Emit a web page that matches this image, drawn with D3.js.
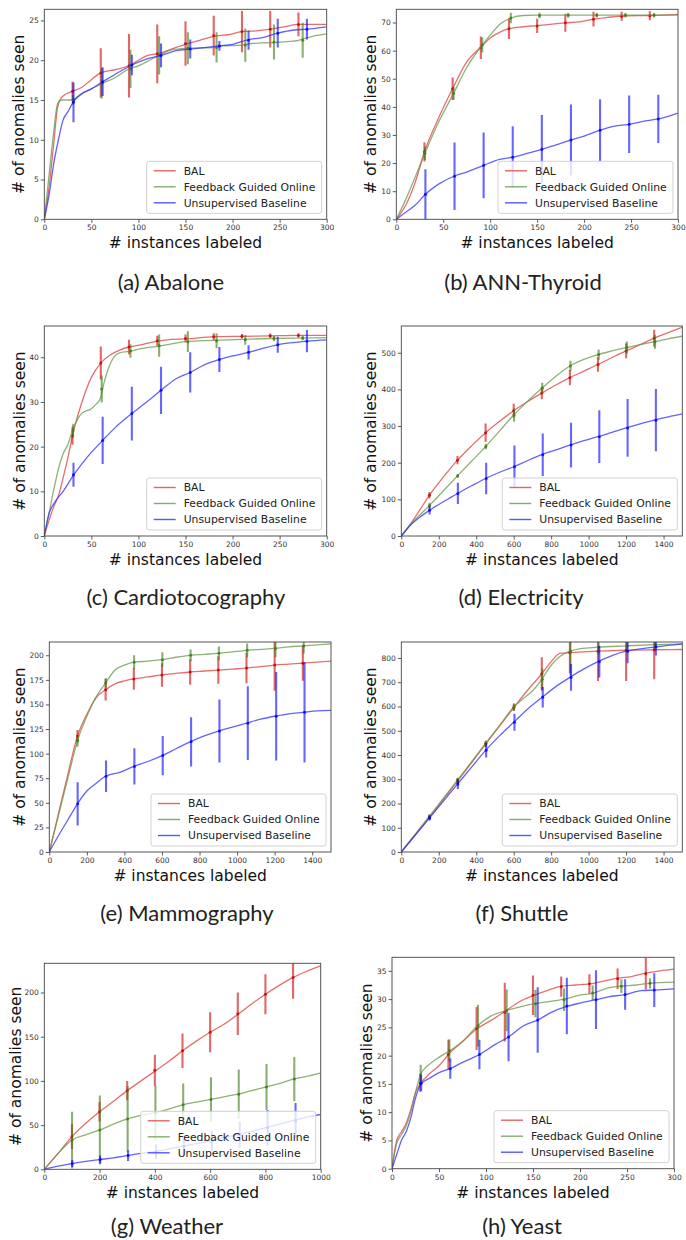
<!DOCTYPE html>
<html>
<head>
<meta charset="utf-8">
<script src="https://cdn.jsdelivr.net/npm/d3@7"></script>
<style>
  body { margin: 0; background: #fff; }
  svg { display: block; }
</style>
</head>
<body>
<svg id="fig" width="686" height="1240"></svg>
<script>
// ---------------- data ----------------
const seriesNames = ["BAL", "Feedback Guided Online", "Unsupervised Baseline"];
const captions = ["(a) Abalone", "(b) ANN-Thyroid", "(c) Cardiotocography", "(d) Electricity",
                  "(e) Mammography", "(f) Shuttle", "(g) Weather", "(h) Yeast"];
const xLabel = "# instances labeled";
const yLabel = "# of anomalies seen";

// axis extents and ticks
const xMaxes = [300, 300, 300, 1500, 1500, 1500, 1000, 300];
const yMaxes = [26.4, 74.7, 47, 573, 213.5, 866, 233, 37.4];
const xTicks300 = [0, 50, 100, 150, 200, 250, 300];
const xTicks1500 = [0, 200, 400, 600, 800, 1000, 1200, 1400];
const xTicks1000 = [0, 200, 400, 600, 800, 1000];
const yTicksA = [0, 5, 10, 15, 20, 25];
const yTicksB = [0, 10, 20, 30, 40, 50, 60, 70];
const yTicksC = [0, 10, 20, 30, 40];
const yTicksD = [0, 100, 200, 300, 400, 500];
const yTicksE = [0, 25, 50, 75, 100, 125, 150, 175, 200];
const yTicksF = [0, 100, 200, 300, 400, 500, 600, 700, 800];
const yTicksG = [0, 50, 100, 150, 200];
const yTicksH = [0, 5, 10, 15, 20, 25, 30, 35];

// x positions of the error bars (BAL, Feedback Guided Online, Unsupervised Baseline)
const barX300Bal = [30, 60, 90, 120, 150, 180, 210, 240, 270];
const barX300Fgo = [30.5, 61, 91.5, 122, 152.5, 183, 213.5, 244, 274.5];
const barX300Ub  = [31, 62, 93, 124, 155, 186, 217, 248, 279];
const barX1500Bal = [150, 300, 450, 600, 750, 900, 1050, 1200, 1350];
const barX1500Fgo = [150.5, 301, 451.5, 602, 752.5, 903, 1053.5, 1204, 1354.5];
const barX1500Ub  = [151, 302, 453, 604, 755, 906, 1057, 1208, 1359];
const barX1000Bal = [100, 200, 300, 400, 500, 600, 700, 800, 900];
const barX1000Fgo = [100.5, 201, 301.5, 402, 502.5, 603, 703.5, 804, 904.5];
const barX1000Ub  = [101, 202, 303, 404, 505, 606, 707, 808, 909];

// (a) Abalone
const abaloneBal = [[0,0],[5,4],[10,9.5],[14,14],[16.6,15],[20,15.5],[30,16.1],[40,16.6],[48.5,17.4],[60,18.4],[75,18.8],[90,19.3],[100,20],[110,20.6],[120,20.8],[135,21.4],[150,22],[165,22.5],[180,23],[195,23.2],[210,23.6],[225,23.7],[240,23.9],[255,24.2],[270,24.5],[285,24.5],[300,24.5]];
const abaloneFgo = [[0,0],[5,5.5],[10,11],[14,14.5],[18,15],[30,15],[35,15.4],[40,15.8],[50,16.4],[60,17],[75,17.8],[90,18.9],[100,19.3],[120,20.5],[135,21.3],[150,21.5],[180,21.6],[190,21.8],[210,21.9],[220,22.1],[240,22.2],[255,22.3],[270,22.5],[285,23],[300,23.3]];
const abaloneUb  = [[0,0],[5,3],[10,7],[15,10],[20,12.5],[25,13.5],[31,14.8],[40,15.8],[50,16.4],[62,17.3],[75,18.2],[93,19.4],[110,20.2],[124,20.6],[140,21.2],[155,21.4],[186,21.8],[200,22],[217,22.6],[230,22.8],[248,23.4],[265,23.8],[279,23.9],[300,24.2]];
const abaloneBalMean = [16.1, 18.4, 19.3, 20.8, 22.1, 23.1, 23.6, 23.9, 24.5];
const abaloneBalErr  = [1.2, 3.1, 4.0, 3.7, 2.8, 2.5, 2.6, 2.3, 1.5];
const abaloneFgoMean = [15.0, 17.1, 18.9, 20.6, 21.5, 21.6, 21.9, 22.3, 22.5];
const abaloneFgoErr  = [0.6, 1.9, 2.4, 2.4, 2.0, 1.9, 2.1, 2.2, 2.2];
const abaloneUbMean  = [14.7, 17.3, 19.4, 20.6, 21.4, 21.8, 22.5, 23.4, 23.9];
const abaloneUbErr   = [2.5, 1.8, 1.3, 1.5, 1.2, 0.6, 1.2, 1.8, 1.3];

// (b) ANN-Thyroid
const thyroidBal = [[0,0],[10,5],[20,13],[30,24],[45,36],[60,46.5],[75,56],[90,61.2],[100,64.5],[110,66.5],[120,67.8],[135,68.5],[150,68.9],[180,69.9],[195,70.2],[210,71.2],[225,71.8],[240,72.3],[270,72.5],[300,72.9]];
const thyroidFgo = [[0,0],[10,7],[20,15],[30.5,23.5],[45,34.5],[61,44.8],[75,54],[91.5,62],[100,65.5],[110,69.3],[122,71.6],[135,72.5],[150,72.6],[300,72.6]];
const thyroidUb  = [[0,0],[10,2.5],[20,5],[31,8.9],[45,12.5],[62,15.4],[75,16.8],[93,19.2],[110,21.3],[124,22.1],[140,23.5],[155,24.9],[170,26.5],[186,28.2],[200,29.6],[217,31.7],[230,33],[248,33.8],[265,35],[279,35.7],[300,37.8]];
const thyroidBalMean = [24, 46.4, 61, 67.8, 68.8, 69.9, 71.2, 72.2, 72.4];
const thyroidBalErr  = [3.4, 4.0, 4.0, 3.7, 2.5, 3.2, 2.6, 1.6, 1.6];
const thyroidFgoMean = [23.5, 44.8, 62, 71.6, 72.5, 72.6, 72.6, 72.6, 72.6];
const thyroidFgoErr  = [2.4, 2.3, 2.7, 1.9, 1.0, 0.8, 0.8, 0.8, 0.8];
const thyroidUbMean  = [8.9, 15.3, 19.2, 22.1, 24.9, 28.2, 31.7, 33.8, 35.7];
const thyroidUbErr   = [8.9, 12, 11.7, 11, 12.2, 12.6, 11, 10.2, 8.6];

// (c) Cardiotocography
const cardioBal = [[0,0],[5,3.5],[10,6.5],[15,9],[20,13],[25,17.5],[30,22.5],[40,30],[50,35.5],[60,38.7],[70,40.5],[80,41.6],[90,42.3],[105,42.9],[120,43.6],[135,44],[150,44.1],[180,44.6],[210,44.7],[240,44.8],[270,44.9],[300,44.9]];
const cardioFgo = [[0,0],[5,5],[10,10.3],[15,15],[20,18.4],[25,20.5],[30,23.6],[35,26],[40,27.5],[50,28.5],[55,29.5],[60,31],[62,33],[65,35.5],[70,38.5],[75,40.3],[80,41],[90,41.3],[100,41.8],[122,42.5],[150,43.5],[180,43.8],[210,44],[240,44.2],[270,44.3],[300,44.4]];
const cardioUb  = [[0,0],[5,5],[10,7.2],[20,10],[31,13.6],[45,17.5],[62,21.4],[75,24.2],[93,27.4],[110,30.2],[124,32.6],[140,35.2],[155,36.6],[170,38.3],[186,39.5],[200,40.3],[217,41.1],[230,41.9],[248,42.8],[265,43.3],[279,43.6],[300,43.9]];
const cardioBalMean = [22.4, 38.7, 42.3, 43.7, 44.2, 44.6, 44.7, 44.8, 44.9];
const cardioBalErr  = [2, 3.7, 1.6, 1.1, 0.9, 0.8, 0.5, 0.5, 0.5];
const cardioFgoMean = [23.6, 32.9, 41.4, 42.6, 43.5, 43.7, 43.9, 44.2, 44.3];
const cardioFgoErr  = [1.4, 3.0, 1.5, 2.5, 2.3, 1.7, 1.1, 0.6, 0.5];
const cardioUbMean  = [13.7, 21.4, 27.4, 32.6, 36.6, 39.5, 41.1, 42.8, 43.6];
const cardioUbErr   = [2.7, 5.3, 6, 5.3, 4.5, 2.8, 1.6, 1.8, 2.5];

// (d) Electricity
const electricityBal = [[0,0],[50,33],[100,72],[150,111],[200,145],[250,177],[300,207],[375,246],[450,282],[525,313],[600,342],[675,367],[750,390],[825,412],[900,432],[975,450],[1050,468],[1125,487],[1200,505],[1275,522],[1350,540],[1425,555],[1500,570]];
const electricityFgo = [[0,0],[50,32],[100,58],[150,83],[200,110],[250,137],[300,164],[375,204],[450,244],[525,287],[600,330],[675,368],[750,403],[825,436],[900,464],[975,482],[1050,495],[1125,505],[1200,514],[1275,522],[1350,530],[1425,538],[1500,545]];
const electricityUb  = [[0,0],[50,30],[100,52],[150,70],[200,86],[250,101],[300,116],[375,137],[450,157],[525,174],[600,189],[675,206],[750,222],[825,235],[900,248],[975,260],[1050,271],[1125,283],[1200,295],[1275,306],[1350,316],[1425,325],[1500,333]];
const electricityBalMean = [111, 207, 282, 342, 390, 432, 468, 505, 540];
const electricityBalErr  = [9, 11, 25, 19, 17, 21, 20, 20, 23];
const electricityFgoMean = [83, 164, 244, 330, 403, 464, 495, 514, 530];
const electricityFgoErr  = [8, 5, 7, 18, 15, 14, 14, 17, 19];
const electricityUbMean  = [70, 116, 157, 189, 222, 248, 271, 295, 316];
const electricityUbErr   = [11, 29, 43, 58, 58, 61, 72, 79, 85];

// (e) Mammography
const mammoBal = [[0,0],[50,40],[100,80],[150,118],[200,140],[250,157],[300,165],[350,171],[400,174],[450,176],[525,178],[600,180],[675,181.5],[750,183],[825,184],[900,185],[975,186],[1050,187],[1125,188.5],[1200,190],[1275,191],[1350,192],[1425,193],[1500,194]];
const mammoFgo = [[0,0],[50,38],[100,76],[150,113],[200,138],[250,158],[300,172],[350,185],[400,190],[450,193],[525,194],[600,195.5],[675,198],[750,200],[825,201],[900,202],[975,203.5],[1050,205],[1125,206],[1200,207],[1275,208.5],[1350,209.5],[1425,210.5],[1500,211.5]];
const mammoUb  = [[0,0],[50,17],[100,33],[150,49],[200,62],[250,70],[300,77],[375,81],[450,87],[525,92],[600,98],[675,105],[750,112],[825,118],[900,123],[975,127],[1050,131],[1125,135],[1200,138],[1275,140.5],[1350,142],[1425,143.5],[1500,144]];
const mammoBalMean = [118, 165, 176, 180, 183, 185, 187, 190, 192];
const mammoBalErr  = [6, 11, 11, 12, 13, 14, 15.5, 26, 18];
const mammoFgoMean = [113, 172, 193, 195.5, 200, 202, 205, 207, 209.5];
const mammoFgoErr  = [6, 5, 7, 7.5, 6, 7, 7, 9, 8];
const mammoUbMean  = [49, 77, 87, 98, 112, 123, 131, 138, 142];
const mammoUbErr   = [22, 16, 18.5, 20, 25, 32, 37.5, 45, 51];

// (f) Shuttle
const shuttleBal = [[0,0],[75,71],[150,143],[225,217],[300,292],[375,368],[450,445],[525,520],[600,595],[675,668],[750,735],[800,785],[850,820],[900,822],[1050,828],[1200,832],[1350,834],[1500,835]];
const shuttleFgo = [[0,0],[75,74],[150,148],[225,222],[300,296],[375,372],[450,448],[525,522],[600,598],[650,632],[700,664],[750,712],[800,770],[850,808],[900,828],[950,838],[1000,842],[1050,845],[1200,850],[1350,855],[1500,858]];
const shuttleUb  = [[0,0],[75,70],[150,140],[225,210],[300,280],[375,350],[450,419],[525,480],[600,535],[675,590],[750,637],[825,682],[900,720],[975,755],[1050,785],[1125,810],[1200,828],[1275,838],[1350,845],[1425,852],[1500,857]];
const shuttleBalMean = [143, 292, 445, 595, 735, 822, 828, 832, 834];
const shuttleBalErr  = [8, 12, 12, 14, 68, 85, 123, 127, 122];
const shuttleFgoMean = [148, 296, 448, 598, 712, 828, 845, 850, 855];
const shuttleFgoErr  = [8, 10, 12, 15, 45, 100, 30, 25, 15];
const shuttleUbMean  = [140, 280, 420, 535, 638, 720, 785, 828, 845];
const shuttleUbErr   = [10, 20, 30, 35, 42, 55, 65, 50, 35];

// (g) Weather
const weatherBal = [[0,0],[50,18],[100,37],[150,52],[200,65],[250,77],[300,89],[350,100],[400,111],[450,122],[500,134],[550,145],[600,155],[650,164],[700,175],[750,187],[800,198],[850,208],[900,217],[950,224],[1000,230]];
const weatherFgo = [[0,0],[50,18],[100,33],[150,39],[200,44.5],[250,51],[300,57],[350,61],[400,64],[450,68],[500,73],[550,76],[600,79],[650,82],[700,85],[750,89],[800,93],[850,97],[900,102],[950,105],[1000,109]];
const weatherUb  = [[0,0],[50,3.5],[100,6.5],[150,9],[200,11],[250,13],[300,15.5],[350,18],[400,20],[450,23],[500,26],[550,29],[600,32],[650,36],[700,39],[750,43],[800,47],[850,51],[900,55],[950,59],[1000,62]];
const weatherBalMean = [37, 65, 89, 112, 134, 155, 176, 198, 217];
const weatherBalErr  = [14, 11, 11, 17.5, 19.5, 22.5, 24, 22.5, 24];
const weatherFgoMean = [33, 44.5, 57, 64, 73, 79, 85, 93, 102];
const weatherFgoErr  = [32, 39, 37, 31, 24, 25, 28, 26, 25];
const weatherUbMean  = [6.5, 11, 15.5, 20, 26, 32, 39, 47, 55];
const weatherUbErr   = [4, 4.5, 6, 8, 10, 12, 15, 20, 20];

// (h) Yeast
const yeastBal = [[0,0],[5,5],[10,6.5],[15,8],[20,10.5],[25,13.5],[30,15],[40,16.8],[50,18.2],[60,20.2],[75,22.5],[90,24.7],[105,26.2],[120,27.8],[135,29.5],[150,30.6],[165,31.5],[180,32.3],[195,32.5],[210,32.7],[225,33.2],[240,33.7],[255,34],[270,34.6],[285,35],[300,35.3]];
const yeastFgo = [[0,0],[5,4.5],[10,6],[15,7.5],[20,10],[25,13.5],[30,16.5],[40,18.5],[50,19.7],[61,20.8],[75,22.5],[91,25.3],[105,27],[122,28],[135,28.6],[152,29.2],[165,29.5],[183,30],[200,30.7],[213,31],[230,32],[244,32.3],[260,32.5],[274,32.8],[300,33]];
const yeastUb  = [[0,0],[5,2.5],[10,5],[15,6.5],[20,9],[25,12.5],[31,15],[40,16],[50,17],[62,17.7],[75,18.8],[93,20.2],[110,22],[124,23.3],[140,25.3],[155,26.3],[170,27.7],[186,28.7],[200,29.3],[217,29.9],[230,30.4],[248,30.8],[265,31.5],[279,31.6],[300,31.8]];
const yeastBalMean = [15.1, 20.2, 24.8, 27.7, 30.7, 32.2, 32.7, 33.6, 34.5];
const yeastBalErr  = [1.5, 2.6, 3.8, 5.2, 3.5, 1.8, 1.7, 1.8, 2.8];
const yeastFgoMean = [16.6, 20.9, 25.3, 28, 29.2, 29.9, 31.1, 32.3, 32.8];
const yeastFgoErr  = [1.8, 2, 3.7, 3.7, 2.4, 2, 1.3, 1.2, 0.9];
const yeastUbMean  = [15.1, 17.7, 20.2, 23.3, 26.3, 28.8, 29.9, 30.8, 31.6];
const yeastUbErr   = [1.4, 1.8, 2.6, 4.3, 5.8, 5, 5.2, 2.7, 3];

// ---------------- layout ----------------
// plot rectangles (px), y-label baseline x, caption centre / baseline
const frames = [
  {l: 44.3,  r: 326.7, t: 9.3,   b: 219.3,  yl: 24,   cx: 171, cy: 290},
  {l: 396.3, r: 678,   t: 9.3,   b: 219.3,  yl: 376,  cx: 523, cy: 290},
  {l: 44.3,  r: 326.7, t: 326,   b: 536,    yl: 24.5, cx: 186, cy: 605},
  {l: 401.3, r: 682.3, t: 326,   b: 536,    yl: 376,  cx: 521, cy: 605},
  {l: 49.3,  r: 331,   t: 642,   b: 852,    yl: 24.5, cx: 187, cy: 921},
  {l: 401.3, r: 682.3, t: 642,   b: 852,    yl: 376,  cx: 522, cy: 921},
  {l: 44.3,  r: 320.7, t: 963.3, b: 1169.3, yl: 21,   cx: 167, cy: 1234},
  {l: 392,   r: 674,   t: 957.3, b: 1168.7, yl: 372,  cx: 522, cy: 1234}
];

const styles = [
  {line: "rgb(222,62,62)",  bar: "rgb(205,0,0)"},
  {line: "rgb(104,152,72)", bar: "rgb(62,122,22)"},
  {line: "rgb(45,45,255)",  bar: "rgb(0,0,255)"}
];

const zip = (xs, ms, es) => xs.map((x, i) => ({x, m: ms[i], e: es[i]}));

const panels = [
  {lines: [abaloneBal, abaloneFgo, abaloneUb],
   bars: [zip(barX300Bal, abaloneBalMean, abaloneBalErr), zip(barX300Fgo, abaloneFgoMean, abaloneFgoErr), zip(barX300Ub, abaloneUbMean, abaloneUbErr)],
   xTicks: xTicks300, yTicks: yTicksA},
  {lines: [thyroidBal, thyroidFgo, thyroidUb],
   bars: [zip(barX300Bal, thyroidBalMean, thyroidBalErr), zip(barX300Fgo, thyroidFgoMean, thyroidFgoErr), zip(barX300Ub, thyroidUbMean, thyroidUbErr)],
   xTicks: xTicks300, yTicks: yTicksB},
  {lines: [cardioBal, cardioFgo, cardioUb],
   bars: [zip(barX300Bal, cardioBalMean, cardioBalErr), zip(barX300Fgo, cardioFgoMean, cardioFgoErr), zip(barX300Ub, cardioUbMean, cardioUbErr)],
   xTicks: xTicks300, yTicks: yTicksC},
  {lines: [electricityBal, electricityFgo, electricityUb],
   bars: [zip(barX1500Bal, electricityBalMean, electricityBalErr), zip(barX1500Fgo, electricityFgoMean, electricityFgoErr), zip(barX1500Ub, electricityUbMean, electricityUbErr)],
   xTicks: xTicks1500, yTicks: yTicksD},
  {lines: [mammoBal, mammoFgo, mammoUb],
   bars: [zip(barX1500Bal, mammoBalMean, mammoBalErr), zip(barX1500Fgo, mammoFgoMean, mammoFgoErr), zip(barX1500Ub, mammoUbMean, mammoUbErr)],
   xTicks: xTicks1500, yTicks: yTicksE},
  {lines: [shuttleBal, shuttleFgo, shuttleUb],
   bars: [zip(barX1500Bal, shuttleBalMean, shuttleBalErr), zip(barX1500Fgo, shuttleFgoMean, shuttleFgoErr), zip(barX1500Ub, shuttleUbMean, shuttleUbErr)],
   xTicks: xTicks1500, yTicks: yTicksF},
  {lines: [weatherBal, weatherFgo, weatherUb],
   bars: [zip(barX1000Bal, weatherBalMean, weatherBalErr), zip(barX1000Fgo, weatherFgoMean, weatherFgoErr), zip(barX1000Ub, weatherUbMean, weatherUbErr)],
   xTicks: xTicks1000, yTicks: yTicksG},
  {lines: [yeastBal, yeastFgo, yeastUb],
   bars: [zip(barX300Bal, yeastBalMean, yeastBalErr), zip(barX300Fgo, yeastFgoMean, yeastFgoErr), zip(barX300Ub, yeastUbMean, yeastUbErr)],
   xTicks: xTicks300, yTicks: yTicksH}
];

// ---------------- drawing ----------------
const svg = d3.select("#fig");
svg.append("rect").attr("width", 686).attr("height", 1240).attr("fill", "#fff");
const defs = svg.append("defs");

panels.forEach((p, i) => {
  const f = frames[i];
  const x = d3.scaleLinear().domain([0, xMaxes[i]]).range([f.l, f.r]);
  const y = d3.scaleLinear().domain([0, yMaxes[i]]).range([f.b, f.t]);
  const g = svg.append("g");

  defs.append("clipPath").attr("id", "plot-clip-" + i)
    .append("rect").attr("x", f.l).attr("y", f.t)
    .attr("width", f.r - f.l).attr("height", f.b - f.t);

  // axes
  const xAxis = g.append("g").attr("transform", `translate(0,${f.b})`)
    .call(d3.axisBottom(x).tickValues(p.xTicks).tickSize(3.5).tickPadding(2).tickFormat(d3.format("d")));
  const yAxis = g.append("g").attr("transform", `translate(${f.l},0)`)
    .call(d3.axisLeft(y).tickValues(p.yTicks).tickSize(3.5).tickPadding(2).tickFormat(d3.format("d")));
  [xAxis, yAxis].forEach(a => {
    a.select(".domain").remove();
    a.selectAll(".tick line").attr("stroke", "#333").attr("stroke-width", 0.8);
    a.selectAll(".tick text").attr("fill", "#333")
      .style("font-family", "'DejaVu Sans', sans-serif").style("font-size", "7.5px");
  });

  // series: line, error bars, mean markers
  const plot = g.append("g").attr("clip-path", `url(#plot-clip-${i})`);
  const line = d3.line().x(d => x(d[0])).y(d => y(d[1])).curve(d3.curveMonotoneX);
  p.lines.forEach((pts, k) => {
    plot.append("path").datum(pts).attr("d", line)
      .attr("fill", "none").attr("stroke", styles[k].line)
      .attr("stroke-width", 1.3).attr("stroke-opacity", 0.75);
    plot.append("g").selectAll("line").data(p.bars[k]).join("line")
      .attr("x1", d => x(d.x)).attr("x2", d => x(d.x))
      .attr("y1", d => y(d.m - d.e)).attr("y2", d => y(d.m + d.e))
      .attr("stroke", styles[k].bar).attr("stroke-width", 2.1).attr("stroke-opacity", 0.6);
    plot.append("g").selectAll("circle").data(p.bars[k]).join("circle")
      .attr("cx", d => x(d.x)).attr("cy", d => y(d.m)).attr("r", 1.5)
      .attr("fill", styles[k].bar).attr("fill-opacity", 0.8);
  });

  // frame
  g.append("rect").attr("x", f.l).attr("y", f.t)
    .attr("width", f.r - f.l).attr("height", f.b - f.t)
    .attr("fill", "none").attr("stroke", "#444").attr("stroke-width", 0.9);

  // legend
  const lw = 175, lh = 52;
  const lx = f.r - 5 - lw, ly = f.b - 6 - lh;
  const leg = g.append("g");
  leg.append("rect").attr("x", lx).attr("y", ly).attr("width", lw).attr("height", lh)
    .attr("rx", 2.5).attr("fill", "#fff").attr("fill-opacity", 0.8)
    .attr("stroke", "#ccc").attr("stroke-width", 0.9);
  seriesNames.forEach((name, k) => {
    const cy = ly + 9.5 + 16 * k;
    leg.append("line").attr("x1", lx + 7).attr("x2", lx + 29).attr("y1", cy).attr("y2", cy)
      .attr("stroke", styles[k].line).attr("stroke-width", 1.4).attr("stroke-opacity", 0.8);
    leg.append("text").attr("x", lx + 37).attr("y", cy).attr("dy", "0.35em")
      .attr("fill", "#222").style("font-family", "'DejaVu Sans', sans-serif")
      .style("font-size", "10.8px").text(name);
  });

  // axis labels
  g.append("text").attr("x", (f.l + f.r) / 2).attr("y", f.b + 29)
    .attr("text-anchor", "middle").attr("fill", "#111")
    .style("font-family", "'DejaVu Sans', sans-serif").style("font-size", "15.5px").text(xLabel);
  g.append("text").attr("transform", `translate(${f.yl},${(f.t + f.b) / 2}) rotate(-90)`)
    .attr("text-anchor", "middle").attr("fill", "#111")
    .style("font-family", "'DejaVu Sans', sans-serif").style("font-size", "15.5px").text(yLabel);

  // caption
  g.append("text").attr("x", f.cx).attr("y", f.cy).attr("text-anchor", "middle")
    .attr("fill", "#222").style("font-family", "Lato, sans-serif")
    .style("font-size", "22px").text(captions[i]);
});
</script>
</body>
</html>
